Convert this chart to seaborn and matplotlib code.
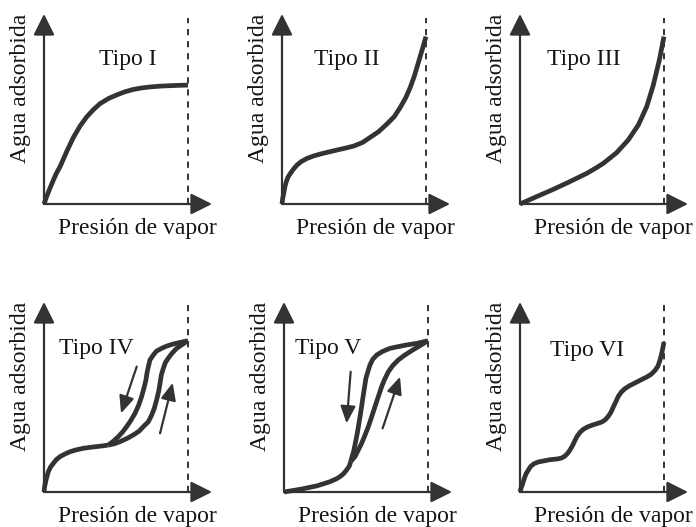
import matplotlib
matplotlib.use("Agg")
import matplotlib.pyplot as plt
import pandas as pd
import seaborn as sns

sns.set_style("white")
plt.rcParams["font.family"] = ["Liberation Serif", "DejaVu Serif"]

INK = "#333333"
TEXT = "#151515"

# Relative vapour pressure (P/P0 = 1 at the dashed line) and adsorbed water
tipo1_p = [0.0, 0.015, 0.03, 0.06, 0.085, 0.111, 0.16, 0.204, 0.25, 0.296, 0.345, 0.389,
           0.45, 0.505, 0.56, 0.62, 0.68, 0.736, 0.80, 0.852, 0.92, 1.0]
tipo1_w = [0.0, 0.032, 0.062, 0.117, 0.16, 0.196, 0.28, 0.35, 0.41, 0.458, 0.498, 0.528,
           0.556, 0.574, 0.59, 0.603, 0.611, 0.616, 0.620, 0.622, 0.624, 0.626]

tipo2_p = [0.0, 0.005, 0.012, 0.020, 0.030, 0.042, 0.058, 0.080, 0.104, 0.135, 0.174,
           0.22, 0.266, 0.32, 0.382, 0.44, 0.498, 0.56, 0.613, 0.67, 0.729, 0.78, 0.822,
           0.86, 0.891, 0.92, 0.949, 0.975, 1.0]
tipo2_w = [0.0, 0.03, 0.056, 0.09, 0.118, 0.142, 0.161, 0.184, 0.205, 0.224, 0.240,
           0.253, 0.263, 0.273, 0.284, 0.294, 0.305, 0.324, 0.351, 0.38, 0.421, 0.46,
           0.509, 0.56, 0.614, 0.675, 0.749, 0.815, 0.881]

tipo3_p = [0.0, 0.116, 0.231, 0.347, 0.463, 0.52, 0.579, 0.671, 0.752, 0.822, 0.880,
           0.926, 0.968, 1.0]
tipo3_w = [0.0, 0.039, 0.077, 0.118, 0.161, 0.186, 0.214, 0.270, 0.337, 0.416, 0.512,
           0.626, 0.758, 0.881]

tipo4_base_p = [0.0, 0.005, 0.014, 0.030, 0.045, 0.065, 0.085, 0.111, 0.145, 0.181,
                0.225, 0.273, 0.32, 0.366, 0.41, 0.447]
tipo4_base_w = [0.0, 0.03, 0.063, 0.107, 0.131, 0.151, 0.17, 0.186, 0.200, 0.212,
                0.222, 0.230, 0.235, 0.239, 0.243, 0.247]
tipo4_ads_p = [0.447, 0.49, 0.528, 0.580, 0.620, 0.660, 0.690, 0.725, 0.748, 0.766,
               0.782, 0.796, 0.806, 0.815, 0.829, 0.843, 0.863, 0.889, 0.921, 0.956, 1.0]
tipo4_ads_w = [0.247, 0.254, 0.265, 0.283, 0.300, 0.320, 0.344, 0.370, 0.405, 0.440,
               0.484, 0.528, 0.572, 0.616, 0.651, 0.681, 0.704, 0.730, 0.756, 0.774,
               0.796]
tipo4_des_p = [1.0, 0.95, 0.898, 0.852, 0.817, 0.782, 0.759, 0.736, 0.725, 0.715, 0.708,
               0.694, 0.678, 0.657, 0.632, 0.602, 0.574, 0.546, 0.516, 0.481, 0.447]
tipo4_des_w = [0.796, 0.788, 0.779, 0.768, 0.756, 0.742, 0.721, 0.695, 0.660, 0.625,
               0.589, 0.546, 0.502, 0.456, 0.414, 0.375, 0.344, 0.316, 0.291, 0.267,
               0.247]
tipo4_arrow_p = [(0.644, 0.535), (0.806, 0.894)]
tipo4_arrow_w = [(0.660, 0.414), (0.309, 0.575)]

tipo5_base_p = [0.0, 0.111, 0.227, 0.319, 0.366, 0.389, 0.412, 0.435, 0.454, 0.463]
tipo5_base_w = [0.0, 0.014, 0.032, 0.054, 0.070, 0.081, 0.095, 0.116, 0.137, 0.160]
tipo5_ads_p = [0.463, 0.493, 0.516, 0.539, 0.563, 0.586, 0.609, 0.632, 0.655, 0.678,
               0.699, 0.725, 0.755, 0.794, 0.836, 0.887, 0.940, 1.0]
tipo5_ads_w = [0.160, 0.186, 0.221, 0.256, 0.300, 0.344, 0.396, 0.449, 0.502, 0.554,
               0.593, 0.633, 0.665, 0.695, 0.719, 0.744, 0.768, 0.796]
tipo5_des_p = [1.0, 0.921, 0.852, 0.792, 0.736, 0.685, 0.644, 0.616, 0.597, 0.586,
               0.569, 0.551, 0.532, 0.509, 0.486, 0.463]
tipo5_des_w = [0.796, 0.782, 0.774, 0.765, 0.756, 0.740, 0.721, 0.698, 0.668, 0.642,
               0.598, 0.511, 0.414, 0.309, 0.221, 0.160]
tipo5_arrow_p = [(0.463, 0.435), (0.685, 0.806)]
tipo5_arrow_w = [(0.633, 0.361), (0.335, 0.607)]

tipo6_p = [0.0, 0.008, 0.019, 0.030, 0.042, 0.074, 0.10, 0.127, 0.208, 0.26, 0.289,
           0.31, 0.329, 0.348, 0.366, 0.382, 0.398, 0.418, 0.440, 0.468, 0.498, 0.535,
           0.567, 0.592, 0.613, 0.632, 0.648, 0.666, 0.683, 0.705, 0.729, 0.762, 0.799,
           0.840, 0.880, 0.912, 0.938, 0.958, 0.972, 0.987, 1.0]
tipo6_w = [0.0, 0.022, 0.044, 0.072, 0.096, 0.135, 0.150, 0.158, 0.170, 0.174, 0.179,
           0.188, 0.202, 0.222, 0.246, 0.272, 0.295, 0.315, 0.330, 0.342, 0.351, 0.360,
           0.368, 0.380, 0.398, 0.420, 0.447, 0.476, 0.504, 0.527, 0.544, 0.560, 0.574,
           0.590, 0.605, 0.620, 0.640, 0.662, 0.693, 0.738, 0.789]

titulos = ["Tipo I", "Tipo II", "Tipo III", "Tipo IV", "Tipo V", "Tipo VI"]
xlabel = "Presión de vapor"
ylabel = "Agua adsorbida"

W, H = 696, 527
fig = plt.figure(figsize=(W / 100, H / 100), dpi=100)

XMAX = 1.167  # tip of the pressure arrow, in P/P0 units
FS = 17


def panel(ox, oy):
    """Axes whose origin sits at pixel (ox, oy) of the figure."""
    ax = fig.add_axes([ox / W, (H - oy) / H, 168 / W, 190 / H])
    ax.axis("off")
    return ax


def frame(ax, title, tx, ty, dash_top):
    arrow = dict(arrowstyle="-|>,head_length=0.5,head_width=0.25", color=INK, lw=1.6,
                 shrinkA=0, shrinkB=0, mutation_scale=26)
    ax.annotate("", xy=(XMAX, 0), xytext=(0, 0), arrowprops=arrow, annotation_clip=False)
    ax.annotate("", xy=(0, 1.0), xytext=(0, 0), arrowprops=arrow, annotation_clip=False)
    ax.plot([1, 1], [0, dash_top], color=INK, lw=1.4, ls=(0, (3.2, 3.0)), clip_on=False)
    ax.text(tx, ty, title, ha="center", va="center", fontsize=FS, color=TEXT)
    ax.text(0.65, -0.13, xlabel, ha="center", va="center", fontsize=FS, color=TEXT)
    ax.text(-0.165, 0.61, ylabel, ha="center", va="center", rotation=90, fontsize=FS,
            color=TEXT)
    ax.set_xlim(0, XMAX)
    ax.set_ylim(0, 1)


def curve(ax, p, w):
    df = pd.DataFrame({"p": p, "w": w})
    sns.lineplot(data=df, x="p", y="w", sort=False, estimator=None, ax=ax, color=INK,
                 lw=3.4, solid_capstyle="butt", solid_joinstyle="round", clip_on=False)


def small_arrows(ax, ap, aw):
    for (x0, x1), (y0, y1) in zip(ap, aw):
        ax.annotate("", xy=(x1, y1), xytext=(x0, y0),
                    arrowprops=dict(arrowstyle="-|>,head_length=0.55,head_width=0.24",
                                    color=INK, lw=1.6, shrinkA=0, shrinkB=0,
                                    mutation_scale=19))


ax1 = panel(44, 204)
curve(ax1, tipo1_p, tipo1_w)
frame(ax1, titulos[0], 0.583, 0.758, 0.98)

ax2 = panel(282, 204)
curve(ax2, tipo2_p, tipo2_w)
frame(ax2, titulos[1], 0.45, 0.758, 0.98)

ax3 = panel(520, 204)
curve(ax3, tipo3_p, tipo3_w)
frame(ax3, titulos[2], 0.44, 0.758, 0.98)

ax4 = panel(44, 492)
curve(ax4, tipo4_base_p, tipo4_base_w)
curve(ax4, tipo4_ads_p, tipo4_ads_w)
curve(ax4, tipo4_des_p, tipo4_des_w)
small_arrows(ax4, tipo4_arrow_p, tipo4_arrow_w)
frame(ax4, titulos[3], 0.366, 0.756, 0.985)

ax5 = panel(284, 492)
curve(ax5, tipo5_base_p, tipo5_base_w)
curve(ax5, tipo5_ads_p, tipo5_ads_w)
curve(ax5, tipo5_des_p, tipo5_des_w)
small_arrows(ax5, tipo5_arrow_p, tipo5_arrow_w)
frame(ax5, titulos[4], 0.308, 0.756, 0.985)

ax6 = panel(520, 492)
curve(ax6, tipo6_p, tipo6_w)
frame(ax6, titulos[5], 0.463, 0.747, 0.985)

fig.savefig("out.png", dpi=100, facecolor="white")
